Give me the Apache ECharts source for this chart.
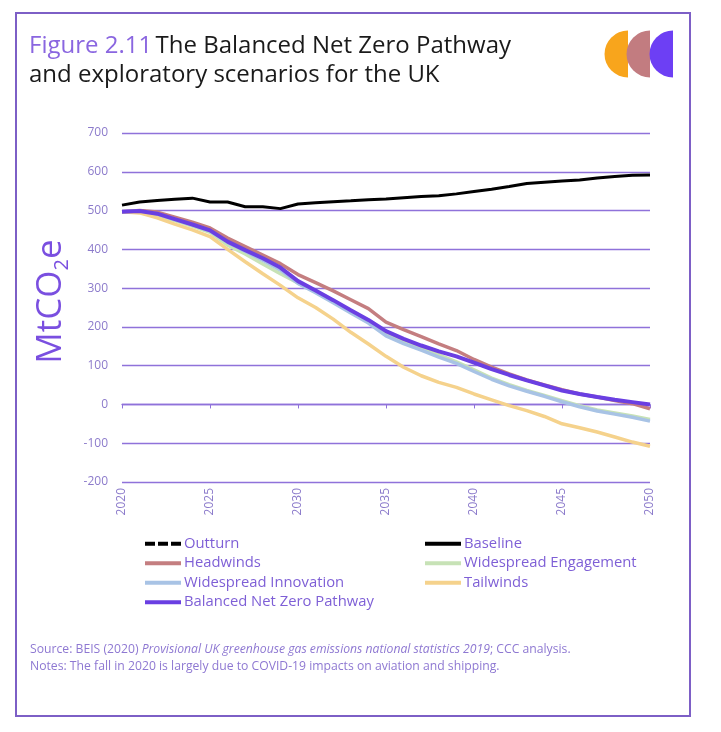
<!DOCTYPE html>
<html><head><meta charset="utf-8">
<script src="https://cdn.jsdelivr.net/npm/echarts@6/dist/echarts.min.js"></script>
<style>html,body{margin:0;padding:0;background:#fff}#c{width:721px;height:732px}</style>
</head><body><div id="c"></div>
<script>
const years = [2020,2021,2022,2023,2024,2025,2026,2027,2028,2029,2030,2031,2032,2033,2034,2035,2036,2037,2038,2039,2040,2041,2042,2043,2044,2045,2046,2047,2048,2049,2050];
const outturn = [497];
const baseline = [514,522,526,529,532,522,522,510,510,505,517,520,523,525,528,530,533,536,538,543,549,555,562,570,573,576,579,584,588,591,592];
const headwinds = [497,500,496,483,470,455,429,407,385,363,335,314,293,270,247,212,193,175,156,139,116,96,79,63,50,38,27,19,10,2,-11];
const engagement = [497,497,488,474,460,444,411,388,362,337,313,290,265,240,214,182,162,145,128,110,89,68,51,36,23,10,-3,-14,-22,-30,-39];
const innovation = [497,498,491,477,463,447,418,395,372,347,312,288,262,236,210,177,157,140,122,106,85,65,48,34,21,7,-6,-17,-25,-33,-43];
const tailwinds = [497,494,481,465,450,433,400,368,337,307,275,250,220,186,156,124,96,74,57,44,27,12,-3,-16,-31,-50,-60,-71,-84,-97,-108];
const balanced = [497,499,492,478,464,449,420,398,377,353,318,294,269,243,218,189,169,152,137,124,108,91,76,62,49,36,27,19,12,6,0];
const yTicks = [-200,-100,0,100,200,300,400,500,600,700];
const seriesNames = ['Outturn','Baseline','Headwinds','Widespread Engagement','Widespread Innovation','Tailwinds','Balanced Net Zero Pathway'];

const pair = arr => arr.map((v,i)=>[years[i], v]);
const chart = echarts.init(document.getElementById('c'), null, {renderer:'canvas'});
const lab = '#8C7BCB';
const gridCol = '#8F72DA';
const font = '"Open Sans", Lato, sans-serif';
const solidIcon = 'path://M0,0H36V4H0Z';
const dashIcon = 'path://M0,0H10V4H0Z M13,0H23V4H13Z M26,0H36V4H26Z';
function line(name, data, color, width, type, z){
  return {name, type:'line', data:pair(data), xAxisIndex:0, yAxisIndex:0, symbol:'none', showSymbol:false,
    lineStyle:{color, width, type: type||'solid'}, itemStyle:{color}, z: z||2, animation:false};
}
const legendBase = {orient:'vertical', top:531, itemWidth:36, itemHeight:4, itemGap:4, symbolKeepAspect:false,
  textStyle:{color:'#7E5FD6', fontSize:14.8, fontFamily:font, padding:[0,0,0,-2], lineHeight:15.5}};
chart.setOption({
  animation:false,
  textStyle:{fontFamily:font},
  grid:{left:122, right:71, top:133, bottom:250, containLabel:false},
  xAxis:[
    {type:'value', min:2020, max:2050, interval:5, position:'bottom',
     axisLine:{show:true, onZero:true, lineStyle:{color:gridCol, width:1.3}},
     axisTick:{show:true, length:4, lineStyle:{color:gridCol}},
     axisLabel:{show:false}, splitLine:{show:false}},
    {type:'value', min:2020, max:2050, interval:5, position:'bottom',
     axisLine:{show:false, onZero:false}, axisTick:{show:false}, splitLine:{show:false},
     axisLabel:{show:true, rotate:90, color:lab, fontSize:12, margin:6, fontFamily:font, formatter:v=>String(v)}}
  ],
  yAxis:{type:'value', min:yTicks[0], max:yTicks[yTicks.length-1], interval:100,
    axisLine:{show:false}, axisTick:{show:false},
    axisLabel:{color:lab, fontSize:12, margin:14, fontFamily:font},
    splitLine:{show:true, lineStyle:{color:gridCol, width:1.3}},
    name:'{a|MtCO}{b|2}{a|e}', nameLocation:'middle', nameGap:47, nameRotate:90,
    nameTextStyle:{padding:[0,0,0,12], rich:{
      a:{fontSize:35, color:'#7A4FE0', fontFamily:font, lineHeight:44, verticalAlign:'middle'},
      b:{fontSize:20, color:'#7A4FE0', fontFamily:font, lineHeight:44, verticalAlign:'bottom'}}}
  },
  legend:[
    Object.assign({}, legendBase, {left:140,
     data:[{name:'Outturn', icon:dashIcon},{name:'Headwinds', icon:solidIcon},{name:'Widespread Innovation', icon:solidIcon},{name:'Balanced Net Zero Pathway', icon:solidIcon}]}),
    Object.assign({}, legendBase, {left:420,
     data:[{name:'Baseline', icon:solidIcon},{name:'Widespread Engagement', icon:solidIcon},{name:'Tailwinds', icon:solidIcon}]})
  ],
  series:[
    line(seriesNames[0], outturn, '#000', 3, [6,4], 3),
    line(seriesNames[1], baseline, '#000', 3, 'solid', 3),
    line(seriesNames[2], headwinds, '#C47E80', 3.5),
    line(seriesNames[3], engagement, '#C7E2B6', 3.5),
    line(seriesNames[4], innovation, '#A8C3E5', 3.5),
    line(seriesNames[5], tailwinds, '#F5D28C', 3.5),
    line(seriesNames[6], balanced, '#6A3FE2', 4, 'solid', 4)
  ],
  graphic:[
    {type:'rect', shape:{x:16, y:13, width:674, height:703}, style:{fill:null, stroke:'#7D5FC6', lineWidth:2}, z:-1},
    {type:'text', left:29, top:34, style:{rich:{f:{fill:'#8A66E0', fontSize:24, fontFamily:font}, t:{fill:'#1A1A1A', fontSize:24, fontFamily:font}},
      text:'{f|Figure 2.11} {t|The Balanced Net Zero Pathway}'}},
    {type:'text', left:29, top:63, style:{fill:'#1A1A1A', fontSize:24, fontFamily:font, text:'and exploratory scenarios for the UK'}},
    {type:'sector', shape:{cx:628, cy:54, r0:0, r:23.5, startAngle:Math.PI/2, endAngle:Math.PI*1.5, clockwise:true}, style:{fill:'#F8A51C'}},
    {type:'sector', shape:{cx:650, cy:54, r0:0, r:23.5, startAngle:Math.PI/2, endAngle:Math.PI*1.5, clockwise:true}, style:{fill:'#C27C80'}},
    {type:'sector', shape:{cx:673, cy:54, r0:0, r:23.5, startAngle:Math.PI/2, endAngle:Math.PI*1.5, clockwise:true}, style:{fill:'#6D3FF4'}},
    {type:'text', left:30, top:644, style:{rich:{n:{fill:'#8E78D2', fontSize:12.2, fontFamily:font}, i:{fill:'#8E78D2', fontSize:12.2, fontStyle:'italic', fontFamily:font}},
      text:'{n|Source: BEIS (2020) }{i|Provisional UK greenhouse gas emissions national statistics 2019}{n|; CCC analysis.}'}},
    {type:'text', left:30, top:661, style:{fill:'#8E78D2', fontSize:12.2, fontFamily:font, text:'Notes: The fall in 2020 is largely due to COVID-19 impacts on aviation and shipping.'}}
  ]
});
</script></body></html>
